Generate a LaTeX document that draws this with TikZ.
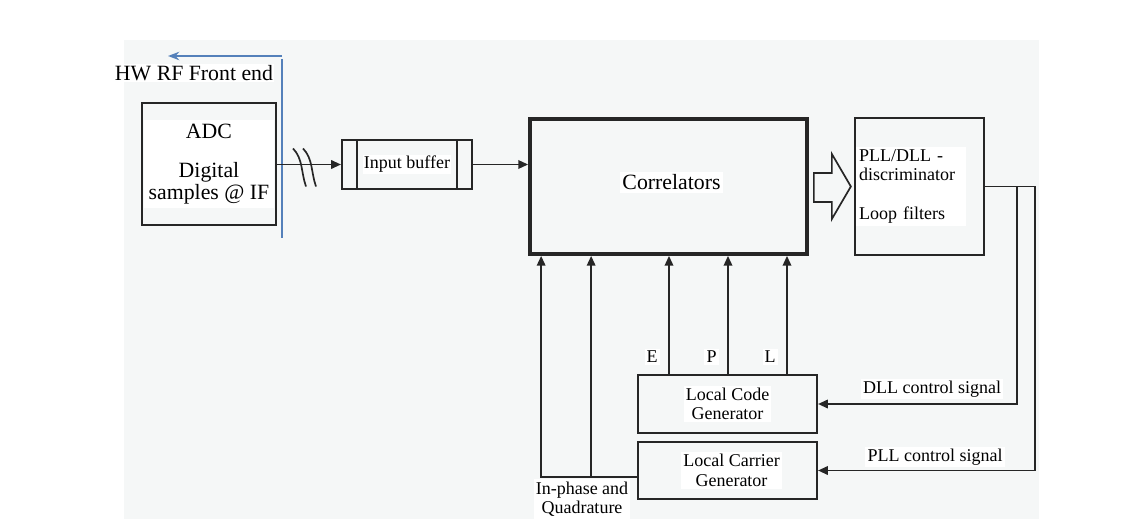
\documentclass[tikz,border=0pt]{standalone}
\usepackage{fontspec}
\setmainfont{Liberation Serif}
\usetikzlibrary{positioning, arrows.meta, calc}

\definecolor{bggray}{RGB}{245,247,247}
\definecolor{frontblue}{RGB}{84,128,186}

\begin{document}
\begin{tikzpicture}[
			x=0.025cm,
			y=-0.025cm,
			>={Triangle[length=7pt,width=6pt]},
			box/.style={
				draw=black!85,
				line width=1.4pt,
				inner sep=0pt
			},
			corrbox/.style={
				box,
				line width=2.6pt
			},
			txt/.style={
				fill=white,
				inner sep=1.5pt,
				align=center,
				font=\fontsize{12.8}{13.8}\selectfont
			},
			bigtxt/.style={
				txt,
				font=\fontsize{15.5}{15.6}\selectfont
			},
			sig/.style={
				draw=black!85,
				line width=1.4pt,
				->
			},
			front/.style={
				draw=frontblue,
				line width=1.3pt
			}
			]
			\useasboundingbox (0,0) rectangle (1140,519);
			\fill[bggray] (124,40) rectangle (1039,519);

			% RF front end border
			\coordinate (fecorner) at (282,56);
			\coordinate (fetip) at (168,56);
			\coordinate (febot) at (282,238);
			\draw[front, -{Stealth[length=8pt,width=6pt]}] (fecorner) -- (fetip);
			\draw[front] ($(fecorner)+(0,3)$) -- (febot);
			\node[bigtxt, inner sep=1pt] (fetxt) at (194,73) {HW RF Front end};

			% Blocks
			\node[box, minimum width=3.35cm, minimum height=3.05cm] (adc) at (209,164) {};
			\node[bigtxt, inner sep=3pt] at (adc.center) {ADC\\[12pt]Digital\\samples @ IF};

			\node[box, minimum width=3.25cm, minimum height=1.225cm] (buf) at (407,164.5) {};
			\draw[box] ($(buf.north west)+(16,0)$) -- ($(buf.south west)+(16,0)$);
			\draw[box] ($(buf.north east)+(-16,0)$) -- ($(buf.south east)+(-16,0)$);
			\node[txt, inner sep=1pt] at (buf.center) {Input buffer};

			\node[corrbox, minimum width=6.925cm, minimum height=3.375cm] (corr) at (668.5,186.5) {};
			\node[bigtxt, inner sep=2pt] at ($(corr.center)+(3,-4)$) {Correlators};

			\node[box, minimum width=3.225cm, minimum height=3.425cm] (pll) at (919.5,186.5) {};
			\node[txt, align=left, anchor=west, text width=2.6cm, inner sep=2pt] at ($(pll.west)+(2,0)$)
				{PLL/DLL -\\discriminator\\[13.8pt]Loop filters};

			\node[box, minimum width=4.475cm, minimum height=1.45cm] (code) at (727.5,404) {};
			\node[txt] at (code.center) {Local Code\\Generator};

			\node[box, minimum width=4.475cm, minimum height=1.425cm] (carr) at (727.5,470.5) {};
			\node[txt] at ($(carr.center)+(4,0)$) {Local Carrier\\Generator};

			% Signal path
			\coordinate (brk) at (300,164.5);
			\draw[sig] (adc.east |- buf.west) -- (buf.west);
			\draw[box, line width=1.2pt] ($(brk)+(-7,-16)$) .. controls ($(brk)+(3,-6)$) and ($(brk)+(1,8)$) .. ($(brk)+(6,22)$);
			\draw[box, line width=1.2pt] ($(brk)+(3,-16)$) .. controls ($(brk)+(13,-6)$) and ($(brk)+(11,8)$) .. ($(brk)+(16,22)$);
			\draw[sig] (buf.east) -- (buf.east -| corr.west);

			% hollow arrow
			\draw[box, line width=1.2pt] ($(corr.east)+(5,-13.5)$) -- ($(corr.east)+(23,-13.5)$)
				-- ($(corr.east)+(23,-32.5)$) -- ($(corr.east)+(42,0)$) -- ($(corr.east)+(23,32.5)$)
				-- ($(corr.east)+(23,15.5)$) -- ($(corr.east)+(5,15.5)$) -- cycle;

			% E, P, L
			\foreach \dx/\nm in {-58.5/E, 0.5/P, 59.5/L} {
				\draw[sig] ($(code.north)+(\dx,0)$) coordinate (\nm top) -- (\nm top |- corr.south);
				\node[txt, anchor=south east] at ($(\nm top)+(-9,-9)$) {\nm};
			}

			% In-phase and Quadrature
			\coordinate (iq) at ($(carr.west)+(0,6.5)$);
			\coordinate (ich) at ($(corr.south west)+(13,0)$);
			\coordinate (qch) at ($(corr.south west)+(63,0)$);
			\draw[sig] (iq) -| (ich);
			\draw[sig] (qch |- iq) -- (qch);
			\node[txt] (iqtxt) at (582,499) {In-phase and\\Quadrature};

			% control loops
			\coordinate (dlltap) at (1017,0 |- pll.east);
			\coordinate (plltap) at (1035,0 |- pll.east);
			\draw[sig] (pll.east) -- (plltap) |- (carr.east);
			\draw[sig] (dlltap) |- (code.east);
			\node[txt] (dlltxt) at (932,389) {DLL control signal};
			\node[txt] (plltxt) at (935,457) {PLL control signal};
		\end{tikzpicture}
\end{document}
